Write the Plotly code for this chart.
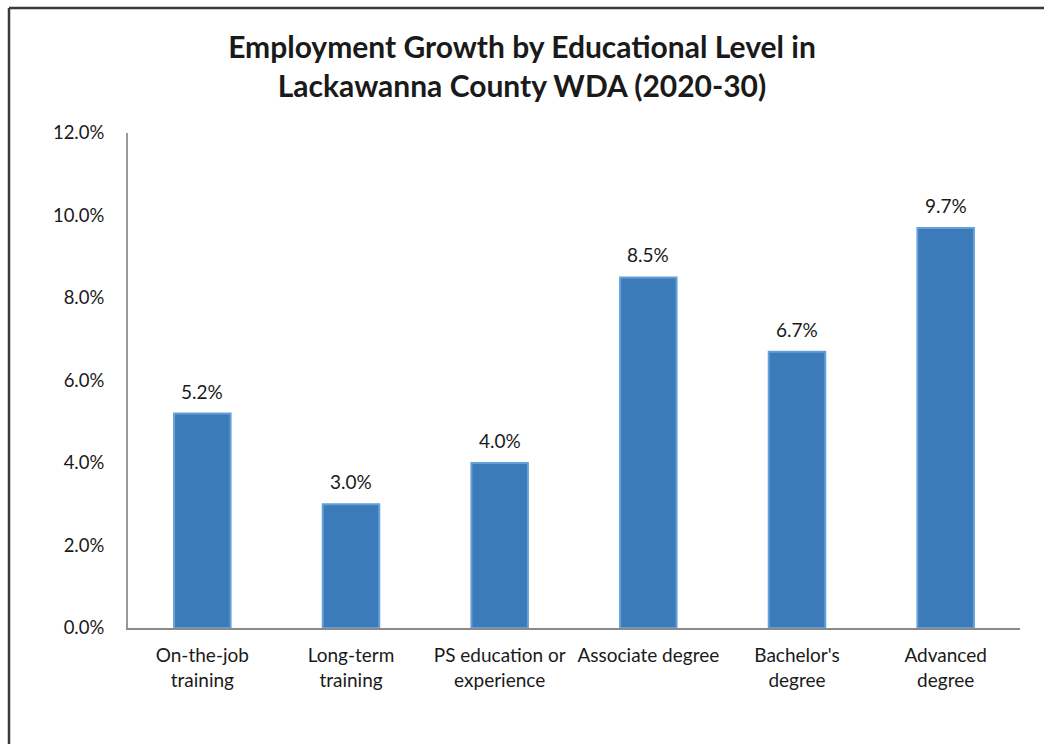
import plotly.graph_objects as go

# Employment growth projections by education level, 2020-30
categories = [
    "On-the-job<br>training",
    "Long-term<br>training",
    "PS education or<br>experience",
    "Associate degree",
    "Bachelor's<br>degree",
    "Advanced<br>degree",
]
growth = [0.052, 0.030, 0.040, 0.085, 0.067, 0.097]
y_ticks = [0.0, 0.02, 0.04, 0.06, 0.08, 0.10, 0.12]

FONT = "Lato"
TEXT = "#1a1a1a"

fig = go.Figure()
fig.add_trace(
    go.Bar(
        x=categories,
        y=growth,
        width=0.38,
        marker=dict(color="#3b7bba", line=dict(color="#64a0d8", width=2)),
        hoverinfo="skip",
    )
)

# Value labels above each bar
for cat, val in zip(categories, growth):
    fig.add_annotation(
        x=cat, y=val, text=f"{val:.1%}",
        showarrow=False, yanchor="bottom", yshift=9,
        font=dict(family=FONT, size=19, color=TEXT),
    )

fig.update_layout(
    width=1044,
    height=744,
    margin=dict(l=128, r=24, t=133, b=116),
    paper_bgcolor="white",
    plot_bgcolor="white",
    showlegend=False,
    font=dict(family=FONT, color=TEXT),
    title=dict(
        text="<b>Employment Growth by Educational Level in<br>Lackawanna County WDA (2020-30)</b>",
        x=0.5,
        xref="container",
        xanchor="center",
        y=0.922,
        yref="container",
        yanchor="middle",
        font=dict(family=FONT, size=30, color=TEXT),
    ),
    xaxis=dict(
        showline=True,
        linecolor="#8a8a8a",
        linewidth=2,
        ticks="",
        ticklabelstandoff=9,
        tickfont=dict(family=FONT, size=19, color=TEXT),
        showgrid=False,
    ),
    yaxis=dict(
        range=[0, 0.12],
        tickvals=y_ticks,
        tickformat=".1%",
        showline=True,
        linecolor="#9a9a9a",
        linewidth=2,
        ticks="",
        ticklabelstandoff=18,
        tickfont=dict(family=FONT, size=18.5, color=TEXT),
        showgrid=False,
        zeroline=False,
    ),
)

# Outer frame around the chart (left and top edges)
fig.add_shape(type="line", xref="paper", yref="paper",
              x0=-0.1334, x1=1.2, y0=1.2525, y1=1.2525,
              line=dict(color="#3a3a3a", width=2.5))
fig.add_shape(type="line", xref="paper", yref="paper",
              x0=-0.1334, x1=-0.1334, y0=1.2525, y1=-0.4,
              line=dict(color="#3a3a3a", width=2.5))

fig.write_html("out.html")
